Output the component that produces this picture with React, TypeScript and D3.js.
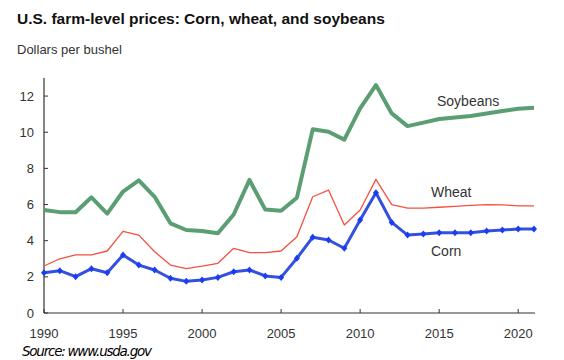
import React from "react";
import * as d3 from "d3";

const years = d3.range(1990, 2022);
const soybeans = [5.70, 5.58, 5.57, 6.40, 5.50, 6.72, 7.34, 6.43, 4.96, 4.59, 4.54, 4.41, 5.45, 7.36, 5.72, 5.66, 6.38, 10.16, 10.03, 9.59, 11.32, 12.61, 11.04, 10.34, 10.53, 10.73, 10.82, 10.90, 11.04, 11.17, 11.30, 11.36];
const wheat = [2.60, 3.00, 3.21, 3.21, 3.43, 4.52, 4.31, 3.39, 2.65, 2.45, 2.59, 2.75, 3.58, 3.34, 3.34, 3.43, 4.22, 6.43, 6.80, 4.87, 5.70, 7.39, 6.00, 5.80, 5.80, 5.85, 5.90, 5.95, 6.00, 5.98, 5.93, 5.93];
const corn = [2.23, 2.34, 2.01, 2.45, 2.23, 3.21, 2.65, 2.38, 1.92, 1.75, 1.83, 1.97, 2.28, 2.38, 2.05, 1.97, 3.03, 4.19, 4.04, 3.58, 5.14, 6.65, 5.01, 4.31, 4.37, 4.44, 4.44, 4.44, 4.53, 4.59, 4.65, 4.65];
const xTicks = [1990, 1995, 2000, 2005, 2010, 2015, 2020];
const yTicks = [0, 2, 4, 6, 8, 10, 12];
const seriesLabels = ["Soybeans", "Wheat", "Corn"];

const W = 564, H = 360;
const left = 44, right = 535, top = 78, bottom = 313;

export default function App() {
  const x = d3.scaleLinear().domain([1990, 2021]).range([left, 534]);
  const y = d3.scaleLinear().domain([0, 13]).range([bottom, top]);
  const line = d3.line<number>().x((_, i) => x(years[i])).y((d) => y(d));
  const font = "'Liberation Sans', Arial, sans-serif";
  const txt = "#333";
  return (
    <svg width={W} height={H} style={{ position: "absolute", left: 0, top: 0, background: "#fff" }} fontFamily={font}>
      <text x={17} y={24} fontSize={15.5} fontWeight="bold" fill="#111">U.S. farm-level prices: Corn, wheat, and soybeans</text>
      <text x={17} y={54} fontSize={13} fill={txt}>Dollars per bushel</text>
      {/* axes */}
      <line x1={left} x2={left} y1={top} y2={bottom} stroke="#333" strokeWidth={1.2} />
      <line x1={left} x2={right} y1={bottom} y2={bottom} stroke="#333" strokeWidth={1.2} />
      {yTicks.map((t) => (
        <g key={"y" + t}>
          <line x1={left} x2={left + 4} y1={y(t)} y2={y(t)} stroke="#333" strokeWidth={1} />
          <text x={left - 10} y={y(t)} dy="0.35em" textAnchor="end" fontSize={13} fill={txt}>{t}</text>
        </g>
      ))}
      {xTicks.map((t) => (
        <g key={"x" + t}>
          <line x1={x(t)} x2={x(t)} y1={bottom} y2={bottom - 4} stroke="#333" strokeWidth={1} />
          <text x={x(t)} y={338} textAnchor="middle" fontSize={13} fill={txt}>{t}</text>
        </g>
      ))}
      <path d={line(soybeans) || ""} fill="none" stroke="#5c9e73" strokeWidth={4} strokeLinejoin="round" />
      <path d={line(wheat) || ""} fill="none" stroke="#f4513f" strokeWidth={1.3} strokeLinejoin="round" />
      <path d={line(corn) || ""} fill="none" stroke="#3450de" strokeWidth={3} strokeLinejoin="round" />
      {corn.map((v, i) => (
        <path key={"m" + i} d={`M${x(years[i])},${y(v) - 3.5}l3,3.5l-3,3.5l-3,-3.5z`} fill="#1a3cf5" />
      ))}
      <text x={437} y={106} fontSize={14} fill={txt}>{seriesLabels[0]}</text>
      <text x={431} y={197} fontSize={14} fill={txt}>{seriesLabels[1]}</text>
      <text x={431} y={256} fontSize={14} fill={txt}>{seriesLabels[2]}</text>
      <text x={22} y={356} fontSize={13.5} fontStyle="italic" fill="#000" fontFamily="'DejaVu Sans', sans-serif" textLength={130}>Source: www.usda.gov</text>
    </svg>
  );
}
